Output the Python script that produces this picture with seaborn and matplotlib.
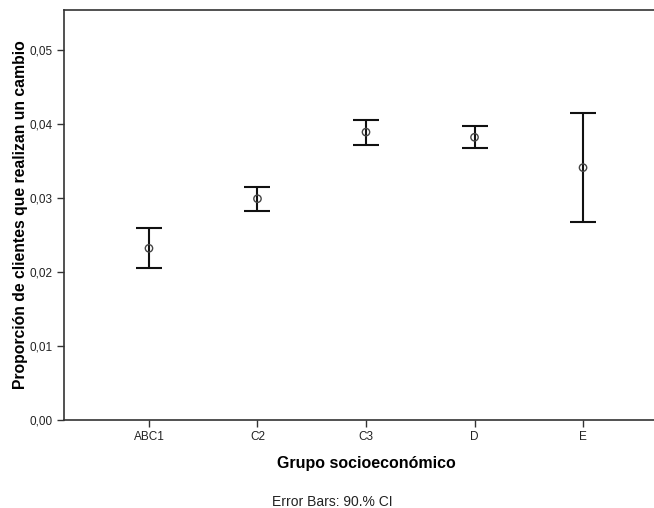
"""
Gráfico de barras de error: proporción de clientes que realizan un cambio
por grupo socioeconómico (IC 90%)
"""

import numpy as np
import pandas as pd
import matplotlib
matplotlib.use("Agg")
import matplotlib.pyplot as plt
from matplotlib.ticker import FuncFormatter, MultipleLocator
import seaborn as sns

# datos
grupos = ["ABC1", "C2", "C3", "D", "E"]
media = [0.0232, 0.0299, 0.0389, 0.0382, 0.0341]
ic_inf = [0.0205, 0.0282, 0.0372, 0.0368, 0.0267]
ic_sup = [0.0259, 0.0315, 0.0405, 0.0397, 0.0415]

df = pd.DataFrame({"grupo": grupos, "media": media,
                   "inf": ic_inf, "sup": ic_sup})

sns.set_theme(style="ticks")
plt.rcParams["font.family"] = ["Liberation Sans", "DejaVu Sans"]

fig = plt.figure(figsize=(6.54, 5.08), dpi=100)
# el eje se sale un poco por la derecha, como en el original
ax = fig.add_axes([64 / 654, 88 / 508, 604 / 654, 410 / 508])

err = np.vstack([df["media"] - df["inf"], df["sup"] - df["media"]])
ax.errorbar(df["grupo"], df["media"], yerr=err, fmt="none",
            ecolor="#111111", elinewidth=1.5, capsize=9.5, capthick=1.5)
sns.scatterplot(data=df, x="grupo", y="media", ax=ax, marker="o", s=28,
                facecolor="none", edgecolor="#444444", linewidth=1.0,
                zorder=3)

ax.set_xlim(-0.783, 4.783)
ax.set_ylim(0, 0.0554)
ax.yaxis.set_major_locator(MultipleLocator(0.01))
ax.yaxis.set_major_formatter(FuncFormatter(lambda v, p: f"{v:.2f}".replace(".", ",")))

for s in ax.spines.values():
    s.set_color("#333333")
    s.set_linewidth(1.2)
    s.set_visible(True)

ax.tick_params(axis="both", direction="out", length=5, width=1,
               color="#333333", labelsize=8.5, labelcolor="#222222", pad=3)

ax.set_xlabel("Grupo socioeconómico", fontsize=11.5, fontweight="bold",
              labelpad=9, color="black")
ax.set_ylabel("Proporción de clientes que realizan un cambio", fontsize=11.3,
              fontweight="bold", labelpad=1, color="black")

fig.text(332 / 654, 2.5 / 508, "Error Bars: 90.% CI", ha="center",
         va="baseline", fontsize=10, color="#222222")

plt.savefig("out.png", dpi=100, facecolor="white")
plt.close()
